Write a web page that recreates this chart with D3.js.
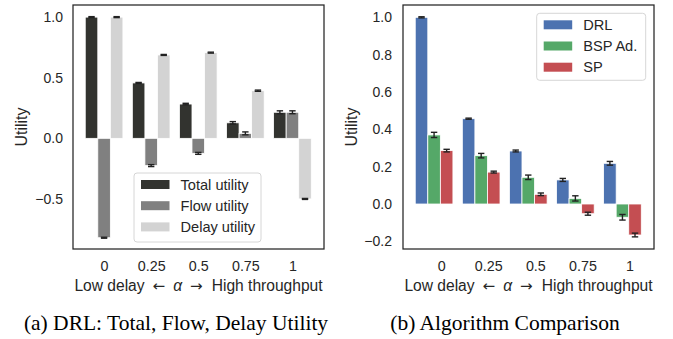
<!DOCTYPE html>
<html>
<head>
<meta charset="utf-8">
<script src="https://cdn.jsdelivr.net/npm/d3@7"></script>
<style>
  body { margin: 0; background: #fff; }
  svg { display: block; }
  text { font-family: "Liberation Sans", Arial, sans-serif; fill: #262626; }
  .arrow { font-family: "DejaVu Sans", sans-serif; }
  .caption { font-family: "Liberation Serif", "Times New Roman", serif; fill: #000; }
</style>
</head>
<body>
<div id="chart"></div>
<script>
var alphaLabels = ["0", "0.25", "0.5", "0.75", "1"];

// panel (a)
var utilSeries = ["Total utility", "Flow utility", "Delay utility"];
var totalUtil = [1.0, 0.457, 0.283, 0.128, 0.215];
var flowUtil = [-0.82, -0.225, -0.124, 0.041, 0.215];
var delayUtil = [1.0, 0.688, 0.707, 0.393, -0.5];
var totalErr = [0.004, 0.004, 0.006, 0.01, 0.012];
var flowErr = [0.004, 0.008, 0.008, 0.012, 0.012];
var delayErr = [0.004, 0.004, 0.004, 0.005, 0.004];

// panel (b)
var algoSeries = ["DRL", "BSP Ad.", "SP"];
var drlUtil = [1.0, 0.457, 0.284, 0.129, 0.218];
var bspUtil = [0.37, 0.259, 0.143, 0.03, -0.071];
var spUtil = [0.286, 0.171, 0.052, -0.052, -0.166];
var drlErr = [0.003, 0.003, 0.005, 0.008, 0.01];
var bspErr = [0.014, 0.012, 0.012, 0.014, 0.015];
var spErr = [0.007, 0.005, 0.007, 0.008, 0.01];

var svg = d3.select("#chart").append("svg")
    .attr("width", 673)
    .attr("height", 339);

function drawPanel(opts) {
    var left = opts.left, top = 5, width = 251, height = 244;
    var g = svg.append("g").attr("transform", "translate(" + left + "," + top + ")");

    var x = d3.scaleLinear().domain([-0.66, 4.67]).range([0, width]);
    var y = d3.scaleLinear().domain(opts.ydomain).range([height, 0]);
    var bw = 0.8 / 3;

    opts.series.forEach(function(name, s) {
        var vals = opts.values[s], errs = opts.errors[s];
        var gs = g.append("g");
        gs.selectAll("rect")
            .data(vals)
            .enter()
            .append("rect")
            .attr("x", function(d, i) { return x(i - 0.4 + s * bw); })
            .attr("width", x(bw) - x(0))
            .attr("y", function(d) { return y(Math.max(0, d)); })
            .attr("height", function(d) { return Math.abs(y(d) - y(0)); })
            .attr("fill", opts.colors[s])
            .attr("stroke", "#fff")
            .attr("stroke-width", 0.8);

        var eb = gs.selectAll(".err")
            .data(vals)
            .enter()
            .append("g")
            .attr("stroke", "#222")
            .attr("stroke-width", 1.4);
        eb.append("line")
            .attr("x1", function(d, i) { return x(i - 0.4 + (s + 0.5) * bw); })
            .attr("x2", function(d, i) { return x(i - 0.4 + (s + 0.5) * bw); })
            .attr("y1", function(d, i) { return y(d - errs[i]); })
            .attr("y2", function(d, i) { return y(d + errs[i]); });
        [-1, 1].forEach(function(sign) {
            eb.append("line")
                .attr("x1", function(d, i) { return x(i - 0.4 + (s + 0.5) * bw) - 3.2; })
                .attr("x2", function(d, i) { return x(i - 0.4 + (s + 0.5) * bw) + 3.2; })
                .attr("y1", function(d, i) { return y(d + sign * errs[i]); })
                .attr("y2", function(d, i) { return y(d + sign * errs[i]); });
        });
    });

    // y axis
    var yAxis = d3.axisLeft(y)
        .tickValues(opts.yticks)
        .tickSize(0)
        .tickPadding(opts.ypad)
        .tickFormat(function(d) { return (d < 0 ? "\u2212" : "") + Math.abs(d).toFixed(1); });
    var ya = g.append("g").call(yAxis);
    ya.select(".domain").remove();
    ya.selectAll("text").style("font-size", "14px").attr("fill", "#262626");

    // x axis
    var xAxis = d3.axisBottom(x)
        .tickValues(d3.range(alphaLabels.length).map(function(i) { return i + opts.tickShift; }))
        .tickSize(0)
        .tickPadding(12)
        .tickFormat(function(d, i) { return alphaLabels[i]; });
    var xa = g.append("g").attr("transform", "translate(0," + height + ")").call(xAxis);
    xa.select(".domain").remove();
    xa.selectAll("text").style("font-size", "14.3px").attr("fill", "#262626");

    // frame
    g.append("rect")
        .attr("width", width)
        .attr("height", height)
        .attr("fill", "none")
        .attr("stroke", "#262626")
        .attr("stroke-width", 1.25);

    // axis labels
    g.append("text")
        .attr("transform", "translate(-46.5," + (height / 2) + ") rotate(-90)")
        .attr("text-anchor", "middle")
        .style("font-size", "16px")
        .text("Utility");

    var xl = g.append("text")
        .attr("x", width / 2)
        .attr("y", height + 42)
        .attr("text-anchor", "middle")
        .style("font-size", "15.6px");
    xl.append("tspan").text("Low delay");
    xl.append("tspan").attr("class", "arrow").attr("dx", 8).style("font-size", "15px").text("\u2190");
    xl.append("tspan").attr("dx", 8).style("font-style", "italic").text("\u03b1");
    xl.append("tspan").attr("class", "arrow").attr("dx", 8).style("font-size", "15px").text("\u2192");
    xl.append("tspan").attr("dx", 9).text("High throughput");

    // legend
    var L = opts.legend;
    var lg = g.append("g").attr("transform", "translate(" + L.x + "," + L.y + ")");
    lg.append("rect")
        .attr("width", L.w)
        .attr("height", L.h)
        .attr("rx", 3)
        .attr("fill", "#fff")
        .attr("fill-opacity", 0.85)
        .attr("stroke", "#ccc")
        .attr("stroke-width", 0.8);
    opts.series.forEach(function(name, s) {
        var row = lg.append("g").attr("transform", "translate(7," + (11.5 + s * 21.2) + ")");
        row.append("rect")
            .attr("y", -4.5)
            .attr("width", 28.5)
            .attr("height", 9)
            .attr("fill", opts.colors[s]);
        row.append("text")
            .attr("x", 39.5)
            .attr("dy", "0.35em")
            .style("font-size", "14.6px")
            .text(name);
    });
}

drawPanel({
    left: 73,
    ydomain: [-0.913, 1.1],
    yticks: [-0.5, 0, 0.5, 1.0],
    series: utilSeries,
    values: [totalUtil, flowUtil, delayUtil],
    errors: [totalErr, flowErr, delayErr],
    colors: ["#32332f", "#808080", "#d3d3d3"],
    tickShift: 0,
    ypad: 10,
    legend: {x: 61, y: 168, w: 127, h: 69}
});

drawPanel({
    left: 403,
    ydomain: [-0.241, 1.066],
    yticks: [-0.2, 0, 0.2, 0.4, 0.6, 0.8, 1.0],
    series: algoSeries,
    values: [drlUtil, bspUtil, spUtil],
    errors: [drlErr, bspErr, spErr],
    colors: ["#4c72b0", "#55a868", "#c44e52"],
    tickShift: 0.15,
    ypad: 11,
    legend: {x: 133.7, y: 8.3, w: 109, h: 67}
});

svg.append("text")
    .attr("class", "caption")
    .attr("x", 176)
    .attr("y", 330)
    .attr("text-anchor", "middle")
    .style("font-size", "21.5px")
    .text("(a) DRL: Total, Flow, Delay Utility");

svg.append("text")
    .attr("class", "caption")
    .attr("x", 505)
    .attr("y", 330)
    .attr("text-anchor", "middle")
    .style("font-size", "21.5px")
    .text("(b) Algorithm Comparison");
</script>
</body>
</html>
